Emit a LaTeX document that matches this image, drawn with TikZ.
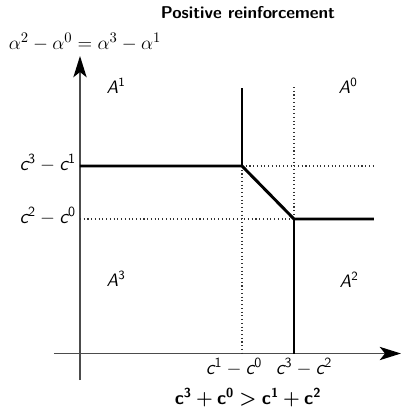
\documentclass[tikz,border=0pt]{standalone}
\usepackage{amsmath}
\usetikzlibrary{arrows.meta}
\newcommand\myc{\text{\sffamily\itshape c}}
\newcommand\myd[1]{\text{\sffamily\upshape #1}}
\newcommand\mybc{\text{\sffamily\bfseries c}}
\newcommand\mybd[1]{\text{\sffamily\bfseries #1}}
\newcommand\bigcond{$\mybc^{\mybd{3}}\boldsymbol{+}\mybc^{\mybd{0}}\boldsymbol{>}\mybc^{\mybd{1}}\boldsymbol{+}\mybc^{\mybd{2}}$}
\begin{document}
\begin{tikzpicture}[x=0.75pt,y=-0.75pt,
  axis/.style={draw=black!70,line width=1pt,-{Stealth[length=16pt,width=10pt,inset=4pt,color=black]}},
  bound/.style={draw=black,line width=2.2pt},
  guide/.style={draw=black!80,line width=0.8pt,dotted},
  lab/.style={inner sep=0pt,font=\fontsize{15}{17}\selectfont},
  area/.style={inner sep=0pt,font=\sffamily\fontsize{13.5}{15}\selectfont}]
\useasboundingbox (0,0) rectangle (402,412);
% coordinates
\coordinate (O) at (80,353.5);
\coordinate (ybot) at (80,380);
\coordinate (ytop) at (80,56);
\coordinate (xleft) at (54,353.5);
\coordinate (xright) at (401,353.5);
\coordinate (P) at (242,166);
\coordinate (Q) at (294,219);
\coordinate (Ptop) at (242,88);
\coordinate (Pleft) at (80,166);
\coordinate (Qright) at (374,219);
\coordinate (Qbot) at (294,353.5);
\coordinate (Pright) at (374,166);
\coordinate (Qtop) at (294,87);
\coordinate (Qleft) at (80,219);
\coordinate (Pbot) at (242,353.5);
% axes
\draw[axis] (ybot) -- (ytop);
\draw[axis] (xleft) -- (xright);
% guides
\draw[guide] (P) -- (Pbot);
\draw[guide] (P) -- (Pright);
\draw[guide] (Qtop) -- (Q);
\draw[guide] (Qleft) -- (Q);
% boundaries
\draw[bound,line cap=butt] (Ptop) -- (P);
\draw[bound] (Pleft) -- (P) -- (Q) -- (Qright);
\draw[bound] (Q) -- (Qbot);
% labels
\node[inner sep=0pt,font=\sffamily\bfseries\fontsize{12.8}{14}\selectfont] (title) at (248,13) {Positive reinforcement};
\node[inner sep=0pt,font=\fontsize{15}{17}\selectfont] (ylab) at (85,42) {$\alpha^2-\alpha^0=\alpha^3-\alpha^1$};
\node[lab,anchor=east] (l31) at (76,163) {$\myc^{\myd{3}}-\myc^{\myd{1}}$};
\node[lab,anchor=east] (l20) at (76,216) {$\myc^{\myd{2}}-\myc^{\myd{0}}$};
\node[lab] (l10) at (234,367) {$\myc^{\myd{1}}-\myc^{\myd{0}}$};
\node[lab] (l32) at (304,367) {$\myc^{\myd{3}}-\myc^{\myd{2}}$};
\node[lab,font=\fontsize{14}{16}\selectfont] (xlab) at (248,398) {\bigcond};
\node[area] (A1) at (116,86) {\itshape A$^{\myd{1}}$};
\node[area] (A0) at (348,86) {\itshape A$^{\myd{0}}$};
\node[area] (A3) at (116,279) {\itshape A$^{\myd{3}}$};
\node[area] (A2) at (349,280) {\itshape A$^{\myd{2}}$};
\end{tikzpicture}
\end{document}
